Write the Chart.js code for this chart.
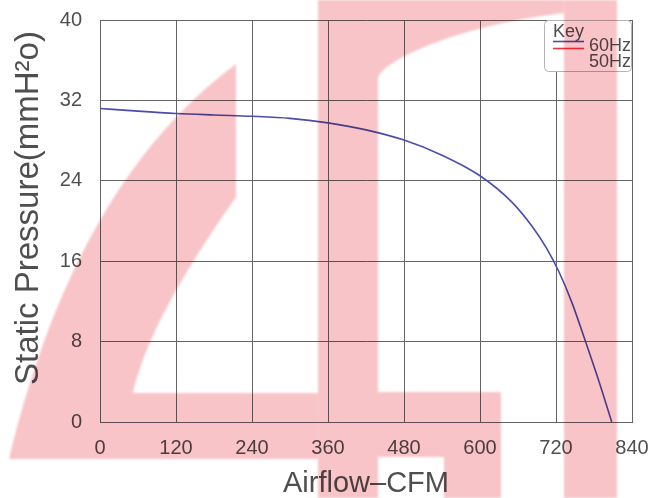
<!DOCTYPE html>
<html>
<head>
<meta charset="utf-8">
<title>Fan curve</title>
<script src="https://cdn.jsdelivr.net/npm/chart.js@4.4.1/dist/chart.umd.min.js"></script>
<style>
    html, body { margin: 0; padding: 0; background: #fff; }
    canvas { display: block; }
</style>
</head>
<body>
<canvas id="fanChart" width="652" height="498"></canvas>
<script>
// Data
const airflow = [0, 60, 120, 180, 240, 300, 360, 420, 480, 540, 600, 650, 683, 705, 725, 745, 765, 787, 808];
const pressure60 = [31.2, 30.93, 30.7, 30.55, 30.42, 30.21, 29.76, 29.07, 28.05, 26.55, 24.5, 21.9, 19.4, 17.3, 14.9, 11.9, 8.3, 4.2, 0];
const pressure50 = [];
const seriesNames = ['60Hz', '50Hz'];
const seriesColors = ['#4b4cab', '#ee3340'];
const xTicks = [0, 120, 240, 360, 480, 600, 720, 840];
const yTicks = [0, 8, 16, 24, 32, 40];
const xTitle = 'Airflow\u2013CFM';
const yTitle = 'Static Pressure(mmH\u00b2o)';

const textColor = '#4f4f4f';
const gridColor = '#646464';
const fontFamily = '"Liberation Sans", Arial, sans-serif';

// Axis titles + "Key" box
const decorPlugin = {
    id: 'decor',
    afterDatasetsDraw(chart) {
        const ctx = chart.ctx;
        const area = chart.chartArea;
        ctx.save();

        // axis titles
        ctx.fillStyle = textColor;
        ctx.font = '29px ' + fontFamily;
        ctx.textAlign = 'center';
        ctx.textBaseline = 'middle';
        ctx.fillText(xTitle, (area.left + area.right) / 2, 484);

        ctx.translate(29, 208);
        ctx.rotate(-Math.PI / 2);
        ctx.font = '33px ' + fontFamily;
        ctx.fillText(yTitle, 0, 0);
        ctx.setTransform(1, 0, 0, 1, 0, 0);

        // legend box
        const bx = 544.5, by = area.top + 0.5, bw = 87, bh = 51;
        ctx.beginPath();
        ctx.roundRect(bx, by, bw, bh, 4);
        ctx.fillStyle = '#fff';
        ctx.fill();
        ctx.strokeStyle = '#b4b4b4';
        ctx.lineWidth = 1;
        ctx.stroke();

        ctx.font = '18px ' + fontFamily;
        ctx.fillStyle = textColor;
        ctx.textAlign = 'left';
        ctx.textBaseline = 'alphabetic';
        ctx.fillText('Key', 553, 37);

        chart.data.datasets.forEach((ds, i) => {
            const ly = 41.5 + i * 7;
            ctx.beginPath();
            ctx.moveTo(553, ly);
            ctx.lineTo(584, ly);
            ctx.strokeStyle = ds.borderColor;
            ctx.lineWidth = 1.6;
            ctx.stroke();
            ctx.textAlign = 'right';
            ctx.fillText(ds.label, 631, 51 + i * 16);
        });
        ctx.restore();
    }
};

// Pink logo watermark laid over everything (multiply)
const watermarkPlugin = {
    id: 'watermark',
    afterDraw(chart) {
        const ctx = chart.ctx;
        ctx.save();
        ctx.globalCompositeOperation = 'multiply';
        ctx.filter = 'blur(0.8px)';
        ctx.fillStyle = 'rgb(248,196,200)';

        ctx.beginPath();
        ctx.moveTo(236, 64);
        ctx.lineTo(236, 197);
        ctx.bezierCurveTo(210, 235, 150, 320, 133, 393);
        ctx.lineTo(318, 393);
        ctx.lineTo(318, 459);
        ctx.lineTo(9, 459);
        ctx.bezierCurveTo(50, 290, 120, 150, 236, 64);
        ctx.closePath();
        ctx.fill();

        ctx.beginPath();
        ctx.moveTo(318, 0);
        ctx.lineTo(564, 0);
        ctx.lineTo(564, 13);
        ctx.bezierCurveTo(460, 25, 383, 60, 378, 78);
        ctx.lineTo(378, 392);
        ctx.lineTo(501, 392);
        ctx.lineTo(501, 498);
        ctx.lineTo(444, 498);
        ctx.lineTo(444, 457);
        ctx.lineTo(378, 457);
        ctx.lineTo(378, 498);
        ctx.lineTo(318, 498);
        ctx.closePath();
        ctx.fill();

        ctx.fillRect(564, 0, 53, 498);
        ctx.restore();
    }
};

const ctx = document.getElementById('fanChart').getContext('2d');
new Chart(ctx, {
    type: 'scatter',
    data: {
        datasets: [{
            label: seriesNames[0],
            data: airflow.map((x, i) => ({ x: x, y: pressure60[i] })),
            borderColor: seriesColors[0],
            backgroundColor: seriesColors[0],
            borderWidth: 1.6,
            showLine: true,
            pointRadius: 0,
            cubicInterpolationMode: 'monotone'
        }, {
            label: seriesNames[1],
            data: pressure50,
            borderColor: seriesColors[1],
            backgroundColor: seriesColors[1],
            borderWidth: 1.6,
            showLine: true,
            pointRadius: 0
        }]
    },
    options: {
        responsive: false,
        animation: false,
        devicePixelRatio: 1,
        layout: { padding: { top: 20, right: 20, left: 0, bottom: 0 } },
        plugins: {
            legend: { display: false },
            tooltip: { enabled: false }
        },
        scales: {
            x: {
                type: 'linear',
                min: 0,
                max: 840,
                afterBuildTicks: scale => { scale.ticks = xTicks.map(v => ({ value: v })); },
                afterFit: scale => {
                    scale.height = 76;
                    scale.paddingLeft = 0;
                    scale.paddingRight = 0;
                },
                grid: { color: gridColor, lineWidth: 1, drawTicks: false },
                border: { color: gridColor },
                ticks: {
                    color: textColor,
                    padding: 14,
                    font: { family: fontFamily, size: 20 },
                    maxRotation: 0
                }
            },
            y: {
                type: 'linear',
                min: 0,
                max: 40,
                afterBuildTicks: scale => { scale.ticks = yTicks.map(v => ({ value: v })); },
                afterFit: scale => {
                    scale.width = 100;
                    scale.paddingTop = 0;
                    scale.paddingBottom = 0;
                },
                grid: { color: gridColor, lineWidth: 1, drawTicks: false },
                border: { color: gridColor },
                ticks: {
                    color: textColor,
                    padding: 18,
                    font: { family: fontFamily, size: 20 }
                }
            }
        }
    },
    plugins: [decorPlugin, watermarkPlugin]
});
</script>
</body>
</html>
